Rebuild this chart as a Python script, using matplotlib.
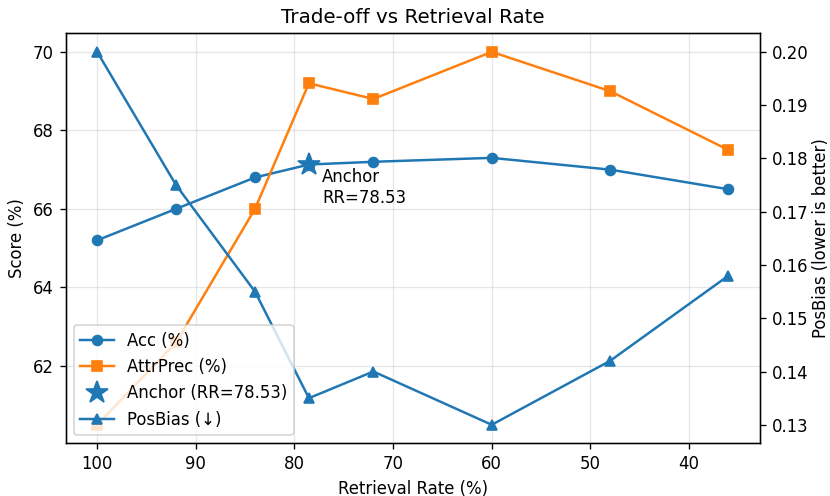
import matplotlib
matplotlib.use("Agg")
import matplotlib.pyplot as plt

# retrieval rate (%) on the x axis, plotted from high to low
rr = [100, 92, 84, 78.53, 72, 60, 48, 36]
acc = [65.2, 66.0, 66.8, 67.13, 67.2, 67.3, 67.0, 66.5]
attr_prec = [60.5, 62.6, 66.0, 69.2, 68.8, 70.0, 69.0, 67.5]
pos_bias = [0.200, 0.175, 0.155, 0.135, 0.140, 0.130, 0.142, 0.158]

anchor_rr = 78.53
anchor_acc = 67.13

dpi = 119
fig, ax1 = plt.subplots(figsize=(830 / dpi, 496 / dpi), dpi=dpi)
fig.subplots_adjust(left=0.079, right=0.9157, top=0.933, bottom=0.106)

l1, = ax1.plot(rr, acc, marker='o', color='C0', label='Acc (%)')
l2, = ax1.plot(rr, attr_prec, marker='s', color='C1', label='AttrPrec (%)')
l3, = ax1.plot([anchor_rr], [anchor_acc], marker='*', markersize=14,
               linestyle='none', color='C0', label='Anchor (RR=%.2f)' % anchor_rr)
ax1.annotate('Anchor\nRR=%.2f' % anchor_rr, (anchor_rr, anchor_acc),
             xytext=(8, -2), textcoords='offset points', ha='left', va='top',
             fontsize=10)

ax1.set_xlabel('Retrieval Rate (%)')
ax1.set_ylabel('Score (%)')
ax1.invert_xaxis()
ax1.grid(True, alpha=0.3)

ax2 = ax1.twinx()
l4, = ax2.plot(rr, pos_bias, marker='^', color='C0', label='PosBias (\u2193)')
ax2.set_ylabel('PosBias (lower is better)', labelpad=2.5)

ax1.set_title('Trade-off vs Retrieval Rate')
ax2.legend(handles=[l1, l2, l3, l4], loc='lower left')

fig.savefig('out.png')
